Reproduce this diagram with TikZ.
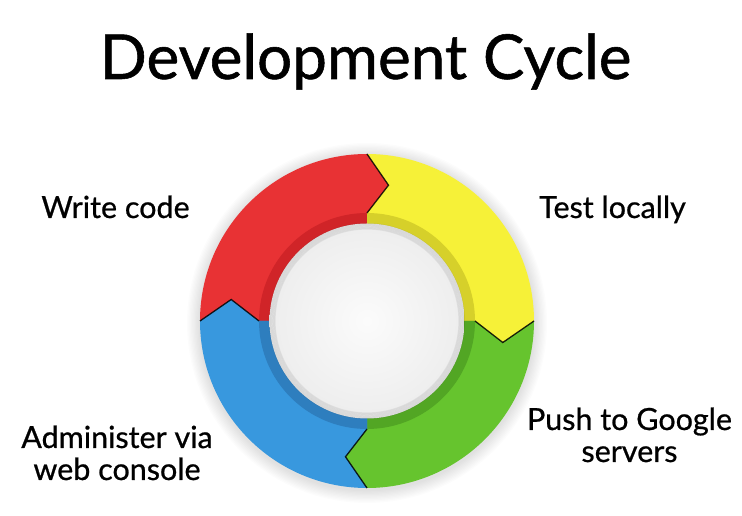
\documentclass[tikz,border=0pt]{standalone}
\usepackage{fontspec}
\setmainfont{Lato}
\newfontfamily\headfont[FakeBold=0.9]{Lato}
\newfontfamily\stepfont[FakeBold=0.7]{Lato}
\definecolor{segred}{RGB}{232,50,52}
\definecolor{segredlip}{RGB}{208,36,40}
\definecolor{segyellow}{RGB}{246,241,56}
\definecolor{segyellowlip}{RGB}{214,208,42}
\definecolor{seggreen}{RGB}{102,196,46}
\definecolor{seggreenlip}{RGB}{82,166,36}
\definecolor{segblue}{RGB}{56,152,222}
\definecolor{segbluelip}{RGB}{46,126,190}
% ring geometry (pt)
\def\Ro{167}
\def\Rm{137.5}
\def\Rc{108}
\def\Ri{97}
\def\tipang{9}
% one quarter of the cycle: start angle, fill colour, lip colour
\newcommand\ringpart[3]{%
  \pgfmathsetmacro\endang{#1-90}%
  \pgfmathsetmacro\tipA{#1-90-\tipang}%
  \pgfmathsetmacro\tipB{#1-\tipang}%
  \fill[#2] ([shift={(c)}]#1:\Ro) arc[start angle=#1, end angle=\endang, radius=\Ro]
    -- ([shift={(c)}]\tipA:\Rm) -- ([shift={(c)}]\endang:\Rc) -- ([shift={(c)}]\endang:\Ri)
    arc[start angle=\endang, end angle=#1, radius=\Ri]
    -- ([shift={(c)}]#1:\Rc) -- ([shift={(c)}]\tipB:\Rm) -- cycle;
  \fill[#3] ([shift={(c)}]\endang:\Ri) arc[start angle=\endang, end angle=#1, radius=\Ri]
    -- ([shift={(c)}]#1:\Rc) arc[start angle=#1, end angle=\endang, radius=\Rc] -- cycle;
}
% dark seam along an arrow head
\newcommand\seam[1]{%
  \pgfmathsetmacro\tipA{#1-\tipang}%
  \draw[seamline] ([shift={(c)}]#1:\Ro) -- ([shift={(c)}]\tipA:\Rm) -- ([shift={(c)}]#1:\Rc);
}
\begin{document}
\begin{tikzpicture}[x=1pt,y=1pt,
  steplabel/.style={font=\stepfont\fontsize{30.5}{32}\selectfont, text=black, inner sep=0pt, align=center},
  seamline/.style={black, line width=1.3pt, opacity=.85, line join=miter},
]
\useasboundingbox (0,0) rectangle (742,516);
\fill[white] (0,0) rectangle (742,516);
\coordinate (c) at (367,195);

% soft shadow around the ring
\foreach \k in {1,...,10} {
  \fill[black, opacity=0.012] ([yshift=-2pt]c) circle ({\Ro+\k*1.3});
}

% the four arrows
\ringpart{180}{segred}{segredlip}
\ringpart{90}{segyellow}{segyellowlip}
\ringpart{0}{seggreen}{seggreenlip}
\ringpart{-90}{segblue}{segbluelip}
\seam{90}
\seam{0}
\seam{-90}
\seam{180}

% the centre disc
\shade[inner color=white!97!gray, outer color=white!86!gray] (c) circle (97.5);
\foreach \k in {0,...,7} {
  \draw[black, opacity=0.06, line width=1pt] (c) circle ({97.5-\k*0.8});
}

% title and step labels
\node[font=\headfont\fontsize{62}{70}\selectfont, inner sep=0pt, anchor=base] (title) at (365.5,437) {Development Cycle};
\node[steplabel, anchor=base] (write) at (115.5,298) {Write code};
\node[steplabel, anchor=base] (test) at (612.5,298) {Test locally};
\node[steplabel, anchor=base] (push) at (629.5,54) {Push to Google\\servers};
\node[steplabel, anchor=base] (admin) at (117,36) {Administer via\\web console};
\end{tikzpicture}
\end{document}
